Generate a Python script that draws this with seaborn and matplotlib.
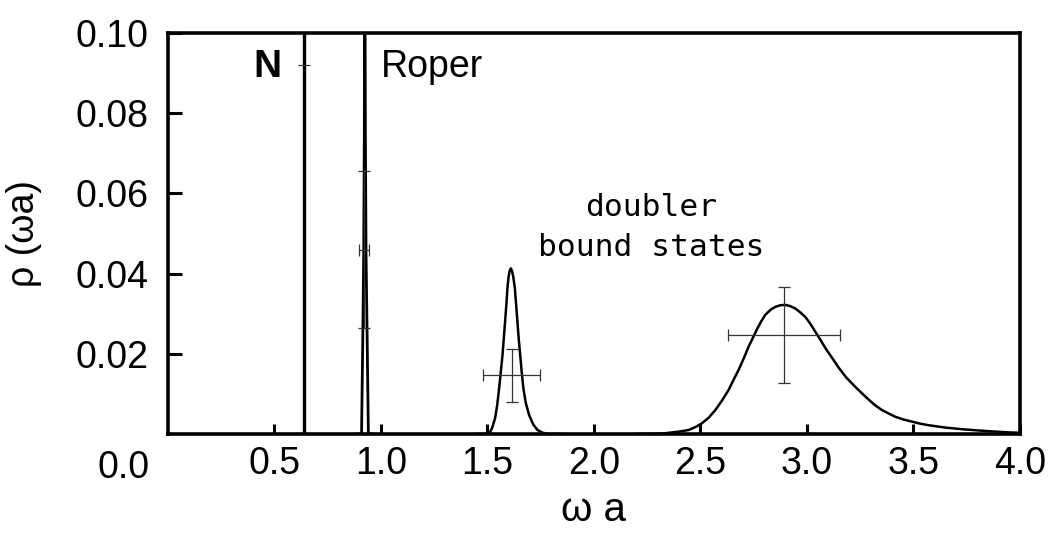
import numpy as np
import pandas as pd
import matplotlib
matplotlib.use("Agg")
import matplotlib.pyplot as plt
import seaborn as sns

# nucleon (delta-like) and Roper positions
n_pos = 0.638
n_err_y = 0.092
n_err_x = 0.029

roper_x = [0.880, 0.909, 0.915, 0.919, 0.922, 0.924, 0.927, 0.930, 0.935, 0.941, 0.970]
roper_y = [0.0, 0.0, 0.025, 0.045, 0.075, 0.130, 0.075, 0.045, 0.025, 0.0, 0.0]

# first doubler bound state
peak2_x = [1.45, 1.508, 1.522, 1.536, 1.546, 1.555, 1.563, 1.571, 1.577, 1.583,
           1.589, 1.594, 1.599, 1.604, 1.610, 1.616, 1.622, 1.629, 1.635, 1.641,
           1.647, 1.654, 1.661, 1.669, 1.680, 1.696, 1.715, 1.735, 1.760, 1.790, 1.85]
peak2_y = [0.0, 0.0, 0.0015, 0.0039, 0.0072, 0.0114, 0.0155, 0.0197, 0.0238, 0.0280,
           0.0322, 0.0363, 0.0390, 0.0406, 0.0413, 0.0406, 0.0390, 0.0363, 0.0322, 0.0280,
           0.0238, 0.0197, 0.0155, 0.0114, 0.0078, 0.0047, 0.0024, 0.0010, 0.0003, 0.0, 0.0]

# second doubler bound state
peak3_x = [2.20, 2.30, 2.337, 2.40, 2.446, 2.48, 2.508, 2.54, 2.571, 2.60, 2.633, 2.655,
           2.680, 2.705, 2.727, 2.745, 2.765, 2.785, 2.805, 2.830, 2.852, 2.875, 2.899,
           2.922, 2.946, 2.970, 2.993, 3.015, 3.040, 3.065, 3.090, 3.120, 3.149, 3.185,
           3.227, 3.260, 3.290, 3.320, 3.352, 3.385, 3.415, 3.455, 3.493, 3.530, 3.571,
           3.650, 3.727, 3.800, 3.884, 3.950, 4.0]
peak3_y = [0.0, 0.0001, 0.0002, 0.0006, 0.0010, 0.0018, 0.0027, 0.0041, 0.0060, 0.0082,
           0.0110, 0.0134, 0.0160, 0.0190, 0.0218, 0.0238, 0.0260, 0.0280, 0.0297, 0.0310,
           0.0317, 0.0321, 0.0322, 0.0319, 0.0313, 0.0303, 0.0292, 0.0276, 0.0255, 0.0234,
           0.0212, 0.0189, 0.0166, 0.0141, 0.0118, 0.0101, 0.0086, 0.0072, 0.0060, 0.0051,
           0.0043, 0.0036, 0.0031, 0.0026, 0.0022, 0.0016, 0.0012, 0.0009, 0.0006, 0.0004,
           0.0003]

# error crosses (x, y, xerr, yerr)
err_x = [0.922, 1.615, 2.893]
err_y = [0.046, 0.0146, 0.0246]
err_xerr = [0.023, 0.134, 0.264]
err_yerr = [0.0195, 0.0065, 0.012]

xticks = [0.5, 1.0, 1.5, 2.0, 2.5, 3.0, 3.5, 4.0]
yticks = [0.02, 0.04, 0.06, 0.08, 0.10]

sns.set_style("ticks")
plt.rcParams['font.family'] = ['Liberation Sans', 'DejaVu Sans']
plt.rcParams['text.color'] = 'black'
plt.rcParams['axes.labelcolor'] = 'black'
plt.rcParams['xtick.color'] = 'black'
plt.rcParams['ytick.color'] = 'black'
plt.rcParams['axes.edgecolor'] = 'black'

fig = plt.figure(figsize=(10.6, 5.35), dpi=100)
ax = fig.add_axes([0.1585, 0.1888, 0.8035, 0.7495])

line_kw = dict(ax=ax, color='black', sort=False, estimator=None)
# N line
sns.lineplot(x=[n_pos, n_pos], y=[0.0, 0.2], lw=2.4, **line_kw)
sns.lineplot(x=roper_x, y=roper_y, lw=2.0, **line_kw)
sns.lineplot(x=peak2_x, y=peak2_y, lw=1.8, **line_kw)
sns.lineplot(x=peak3_x, y=peak3_y, lw=1.8, **line_kw)

ax.errorbar([n_pos], [n_err_y], xerr=[n_err_x], fmt='none', ecolor='#333333',
            elinewidth=0.9, capsize=0)
ax.errorbar(err_x, err_y, xerr=err_xerr, yerr=err_yerr, fmt='none',
            ecolor='#333333', elinewidth=0.9, capsize=4.5, capthick=0.9)

ax.set_xlim(0, 4.0)
ax.set_ylim(0, 0.10)
ax.set_xticks(xticks)
ax.set_xticklabels([f"{v:.1f}" for v in xticks])
ax.set_yticks(yticks)
ax.set_yticklabels([f"{v:.2f}" for v in yticks])

for s in ax.spines.values():
    s.set_linewidth(2.6)
    s.set_visible(True)
ax.tick_params(axis='y', direction='in', length=10, width=2.2, labelsize=27, pad=14)
ax.tick_params(axis='x', direction='in', length=7, width=2.2, labelsize=27, pad=9)

ax.text(-0.022, -0.085, "0.0", transform=ax.transAxes, ha='right', va='center',
        fontsize=27)

ax.set_xlabel("ω a", fontsize=29, labelpad=6)
ax.set_ylabel("ρ (ωa)", fontsize=27, labelpad=24)

ax.text(0.535, 0.0915, "N", fontsize=28, fontweight='bold', ha='right', va='center')
ax.text(1.0, 0.0915, "Roper", fontsize=27, ha='left', va='center')
ax.text(2.27, 0.0515, "doubler\nbound states", fontsize=22.5,
        family=['DejaVu Sans Mono'], ha='center', va='center', linespacing=1.45)

fig.savefig("out.png", dpi=100)
